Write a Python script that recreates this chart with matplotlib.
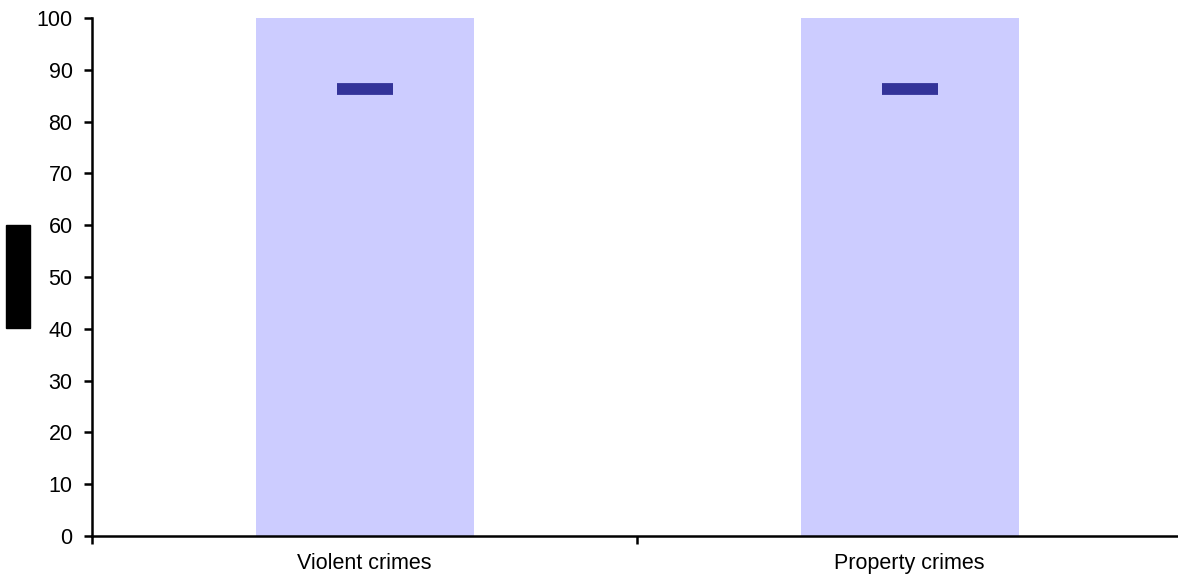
import numpy as np
import matplotlib.pyplot as plt
from matplotlib.patches import Rectangle

# données
categories = ["Violent crimes", "Property crimes"]
barres = [100, 100]
marqueurs = [86.2, 86.2]
graduations_y = [0, 10, 20, 30, 40, 50, 60, 70, 80, 90, 100]

plt.rcParams['font.family'] = ['Liberation Sans', 'DejaVu Sans']

fig = plt.figure(figsize=(11.78, 5.8), dpi=100)
# axe placé en pixels : gauche 92, droite 1182, bas 44, haut 562
ax = fig.add_axes([92 / 1178, 44 / 580, 1090 / 1178, 518 / 580])

x = np.arange(len(categories))
ax.bar(x, barres, width=0.40, color='#CCCCFF', zorder=1)
ax.plot(x, marqueurs, linestyle='none', marker='_', markersize=40,
        markeredgewidth=8.5, color='#333399', zorder=3)

ax.set_xlim(-0.5, len(categories) - 0.5)
ax.set_ylim(0, 100)
ax.set_yticks(graduations_y)

# étiquettes au centre, traits aux limites des catégories
ax.set_xticks(x)
ax.set_xticklabels(categories)
ax.set_xticks(np.arange(-0.5, len(categories)), minor=True)
ax.tick_params(axis='x', which='major', length=0, pad=12, labelsize=15.5)
ax.tick_params(axis='x', which='minor', length=6, width=1.8, direction='out')
ax.tick_params(axis='y', length=6, width=1.8, direction='out', pad=8, labelsize=15.5)

for s in ['top', 'right']:
    ax.spines[s].set_visible(False)
for s in ['left', 'bottom']:
    ax.spines[s].set_linewidth(1.8)

# bloc noir à la place du titre de l'axe y
fig.patches.append(Rectangle((6 / 1178, 1 - 328 / 580), 24 / 1178, 103 / 580,
                             transform=fig.transFigure, color='black'))

fig.savefig('out.png', dpi=100)
